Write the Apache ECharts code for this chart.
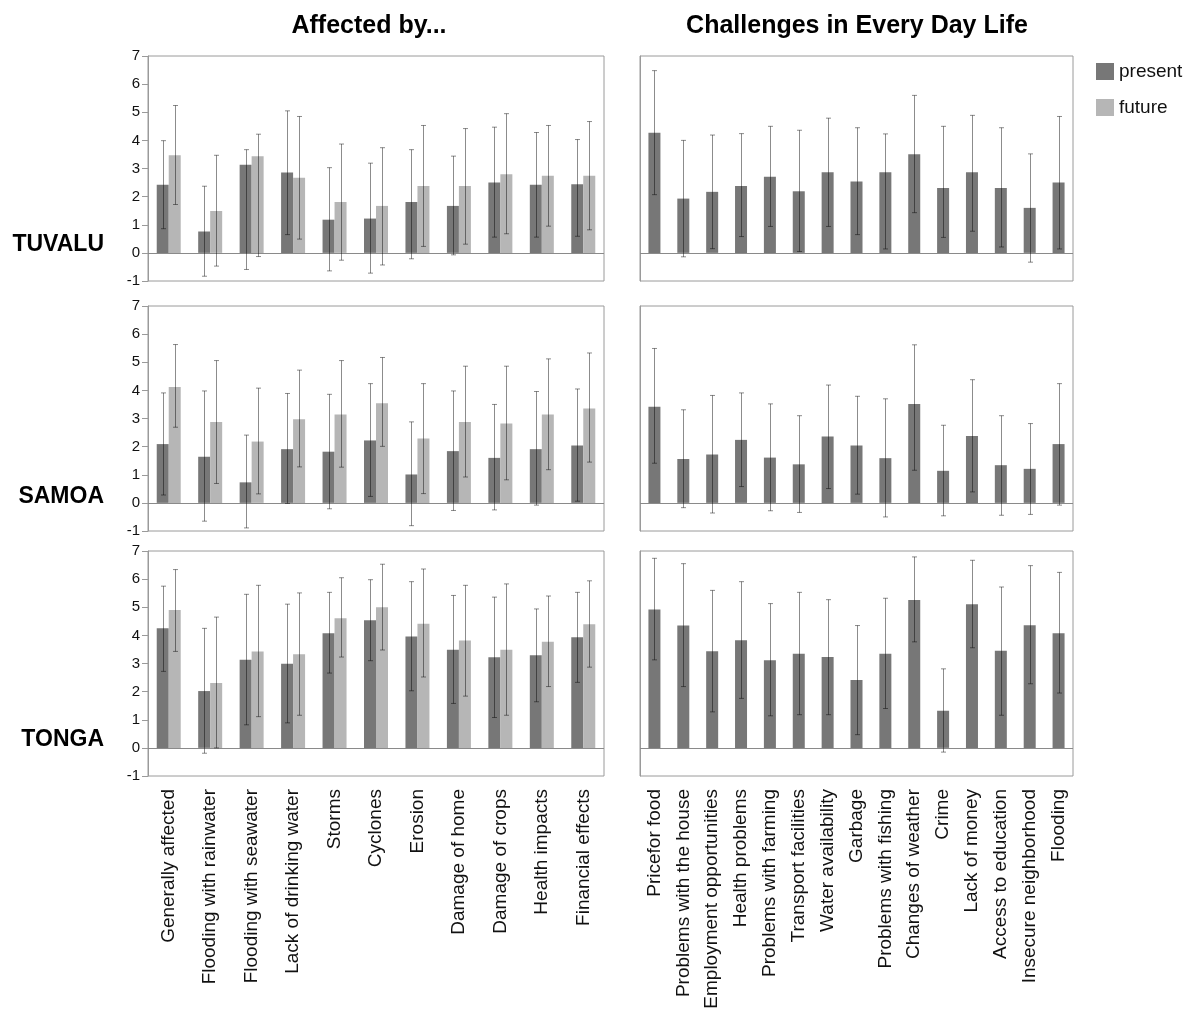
<!DOCTYPE html>
<html>
<head>
<meta charset="utf-8">
<script src="https://cdn.jsdelivr.net/npm/echarts@6/dist/echarts.min.js"></script>
<style>html,body{margin:0;padding:0;background:#fff}#c{width:1192px;height:1012px}</style>
</head>
<body>
<div id="c"></div>
<script>
const affectedCategories = ['Generally affected','Flooding with rainwater','Flooding with seawater','Lack of drinking water','Storms','Cyclones','Erosion','Damage of home','Damage of crops','Health impacts','Financial effects'];
const challengeCategories = ['Pricefor food','Problems with the house','Employment opportunities','Health problems','Problems with farming','Transport facilities','Water availability','Garbage','Problems with fishing','Changes of weather','Crime','Lack of money','Access to education','Insecure neighborhood','Flooding'];
const countries = ['TUVALU','SAMOA','TONGA'];
const seriesNames = ['present','future'];
const yMin = -1, yMax = 7, yStep = 1;

// TUVALU
const tuvaluAffectedPresent     = [2.42, 0.76, 3.13, 2.86, 1.18, 1.22, 1.81, 1.67, 2.50, 2.42, 2.44];
const tuvaluAffectedPresentLow  = [0.86,-0.83,-0.59, 0.65,-0.64,-0.72,-0.21,-0.07, 0.56, 0.56, 0.59];
const tuvaluAffectedPresentHigh = [3.99, 2.37, 3.67, 5.05, 3.03, 3.19, 3.67, 3.44, 4.47, 4.28, 4.03];
const tuvaluAffectedFuture      = [3.47, 1.49, 3.44, 2.67, 1.81, 1.67, 2.38, 2.38, 2.80, 2.74, 2.74];
const tuvaluAffectedFutureLow   = [1.72,-0.47,-0.13, 0.49,-0.26,-0.43, 0.23, 0.31, 0.68, 0.95, 0.82];
const tuvaluAffectedFutureHigh  = [5.24, 3.47, 4.22, 4.85, 3.87, 3.74, 4.53, 4.42, 4.95, 4.53, 4.67];
const tuvaluChallenges     = [4.27, 1.93, 2.17, 2.38, 2.71, 2.19, 2.87, 2.54, 2.87, 3.51, 2.31, 2.87, 2.31, 1.60, 2.50];
const tuvaluChallengesLow  = [2.07,-0.14, 0.15, 0.58, 0.94, 0.05, 0.94, 0.65, 0.14, 1.43, 0.55, 0.77, 0.21,-0.33, 0.14];
const tuvaluChallengesHigh = [6.48, 4.00, 4.19, 4.24, 4.50, 4.36, 4.79, 4.45, 4.23, 5.60, 4.50, 4.89, 4.45, 3.52, 4.85];

// SAMOA
const samoaAffectedPresent     = [2.09, 1.64, 0.73, 1.91, 1.82, 2.22, 1.01, 1.84, 1.60, 1.91, 2.04];
const samoaAffectedPresentLow  = [0.28,-0.65,-0.89,-0.02,-0.21, 0.23,-0.81,-0.27,-0.25,-0.08, 0.06];
const samoaAffectedPresentHigh = [3.91, 3.98, 2.41, 3.89, 3.86, 4.24, 2.88, 3.98, 3.50, 3.96, 4.05];
const samoaAffectedFuture      = [4.12, 2.88, 2.18, 2.97, 3.14, 3.54, 2.29, 2.88, 2.82, 3.14, 3.36];
const samoaAffectedFutureLow   = [2.69, 0.69, 0.32, 1.28, 1.27, 2.01, 0.33, 0.92, 0.82, 1.18, 1.45];
const samoaAffectedFutureHigh  = [5.63, 5.06, 4.08, 4.72, 5.06, 5.17, 4.24, 4.86, 4.86, 5.12, 5.33];
const samoaChallenges     = [3.42, 1.56, 1.72, 2.24, 1.61, 1.37, 2.36, 2.04, 1.59, 3.52, 1.14, 2.38, 1.34, 1.21, 2.09];
const samoaChallengesLow  = [1.41,-0.17,-0.36, 0.58,-0.28,-0.34, 0.51, 0.31,-0.50, 1.16,-0.46, 0.39,-0.44,-0.41,-0.08];
const samoaChallengesHigh = [5.49, 3.31, 3.82, 3.91, 3.52, 3.10, 4.19, 3.79, 3.70, 5.62, 2.76, 4.38, 3.10, 2.82, 4.24];

// TONGA
const tongaAffectedPresent     = [4.25, 2.02, 3.13, 2.99, 4.08, 4.54, 3.96, 3.49, 3.22, 3.29, 3.93];
const tongaAffectedPresentLow  = [2.72,-0.19, 0.82, 0.89, 2.66, 3.10, 2.03, 1.58, 1.08, 1.64, 2.33];
const tongaAffectedPresentHigh = [5.75, 4.25, 5.46, 5.11, 5.53, 5.98, 5.91, 5.42, 5.36, 4.94, 5.53];
const tongaAffectedFuture      = [4.90, 2.31, 3.43, 3.33, 4.61, 5.00, 4.41, 3.82, 3.49, 3.77, 4.40];
const tongaAffectedFutureLow   = [3.43, 0.00, 1.11, 1.16, 3.23, 3.48, 2.52, 1.84, 1.16, 2.18, 2.87];
const tongaAffectedFutureHigh  = [6.34, 4.65, 5.78, 5.51, 6.05, 6.53, 6.36, 5.78, 5.83, 5.40, 5.94];
const tongaChallenges     = [4.92, 4.35, 3.44, 3.83, 3.12, 3.35, 3.23, 2.41, 3.35, 5.26, 1.32, 5.11, 3.45, 4.36, 4.08];
const tongaChallengesLow  = [3.13, 2.18, 1.28, 1.76, 1.14, 1.18, 1.18, 0.47, 1.40, 3.77,-0.15, 3.56, 1.16, 2.28, 1.95];
const tongaChallengesHigh = [6.74, 6.55, 5.60, 5.91, 5.13, 5.53, 5.27, 4.35, 5.32, 6.79, 2.81, 6.67, 5.72, 6.48, 6.24];

const rows = [
  {aff:[[tuvaluAffectedPresent,tuvaluAffectedPresentLow,tuvaluAffectedPresentHigh],[tuvaluAffectedFuture,tuvaluAffectedFutureLow,tuvaluAffectedFutureHigh]], ch:[tuvaluChallenges,tuvaluChallengesLow,tuvaluChallengesHigh]},
  {aff:[[samoaAffectedPresent,samoaAffectedPresentLow,samoaAffectedPresentHigh],[samoaAffectedFuture,samoaAffectedFutureLow,samoaAffectedFutureHigh]], ch:[samoaChallenges,samoaChallengesLow,samoaChallengesHigh]},
  {aff:[[tongaAffectedPresent,tongaAffectedPresentLow,tongaAffectedPresentHigh],[tongaAffectedFuture,tongaAffectedFutureLow,tongaAffectedFutureHigh]], ch:[tongaChallenges,tongaChallengesLow,tongaChallengesHigh]}
];

const colors = ['#777777','#b6b6b6'];
const BW = 12;
const rowTops = [56, 306, 551];
const rowH = 225;
const labelFont = 'Liberation Sans';

const grids = [], xAxes = [], yAxes = [], series = [];

function errSeries(axisIdx, low, high, offset) {
  return {
    type: 'custom', xAxisIndex: axisIdx, yAxisIndex: axisIdx, z: 5, silent: true,
    data: low.map((l, i) => [i, l, high[i]]),
    encode: {x: 0, y: [1, 2]},
    renderItem: function (params, api) {
      const p1 = api.coord([api.value(0), api.value(1)]);
      const p2 = api.coord([api.value(0), api.value(2)]);
      const x = Math.round(p1[0] + offset) + 0.5;
      const cw = 2.5;
      const st = {stroke: 'rgba(0,0,0,0.45)', lineWidth: 1};
      return {type: 'group', children: [
        {type: 'line', shape: {x1: x, y1: p1[1], x2: x, y2: p2[1]}, style: st},
        {type: 'line', shape: {x1: x - cw, y1: p1[1], x2: x + cw, y2: p1[1]}, style: st},
        {type: 'line', shape: {x1: x - cw, y1: p2[1], x2: x + cw, y2: p2[1]}, style: st}
      ]};
    }
  };
}

rows.forEach((row, r) => {
  const isBottom = r === 2;
  [0, 1].forEach(side => {
    const idx = grids.length;
    grids.push({left: side === 0 ? 148 : 640, top: rowTops[r], width: side === 0 ? 456 : 433, height: rowH,
      show: true, borderColor: '#9a9a9a', borderWidth: 1, containLabel: false});
    xAxes.push({type: 'category', gridIndex: idx, data: side === 0 ? affectedCategories : challengeCategories,
      axisLine: {show: false}, axisTick: {show: false},
      axisLabel: {show: isBottom, rotate: 90, interval: 0, fontSize: 19, color: '#111', margin: 13, fontFamily: labelFont}});
    yAxes.push({type: 'value', gridIndex: idx, min: yMin, max: yMax, interval: yStep,
      splitLine: {show: false},
      axisLine: {show: true, lineStyle: {color: '#9a9a9a'}},
      axisTick: {show: side === 0, length: 6, lineStyle: {color: '#9a9a9a'}},
      axisLabel: {show: side === 0, fontSize: 15, color: '#111', margin: 8, fontFamily: labelFont}});
    const zeroLine = {silent: true, symbol: ['none','none'], label: {show: false},
      lineStyle: {color: '#8a8a8a', type: 'solid', width: 1}, data: [{yAxis: 0}], animation: false};
    if (side === 0) {
      row.aff.forEach((s, k) => {
        const bs = {type: 'bar', name: seriesNames[k], xAxisIndex: idx, yAxisIndex: idx, data: s[0],
          barWidth: BW, barGap: '0%', itemStyle: {color: colors[k]}, animation: false};
        if (k === 0) bs.markLine = zeroLine;
        series.push(bs);
        series.push(errSeries(idx, s[1], s[2], k === 0 ? -BW / 2 : BW / 2));
      });
    } else {
      const s = row.ch;
      series.push({type: 'bar', name: seriesNames[0], xAxisIndex: idx, yAxisIndex: idx, data: s[0],
        barWidth: BW, itemStyle: {color: colors[0]}, markLine: zeroLine, animation: false});
      series.push(errSeries(idx, s[1], s[2], 0));
    }
  });
});

const countryY = [245, 497, 740];
const graphic = countries.map((c, i) => ({type: 'text', x: 104, y: countryY[i],
  style: {text: c, font: 'bold 23px "Liberation Sans"', fill: '#000', textAlign: 'right', textVerticalAlign: 'middle'}}));
graphic.push({type: 'text', x: 369, y: 26, style: {text: 'Affected by...', font: 'bold 25px "Liberation Sans"', fill: '#000', textAlign: 'center', textVerticalAlign: 'middle'}});
graphic.push({type: 'text', x: 857, y: 26, style: {text: 'Challenges in Every Day Life', font: 'bold 25px "Liberation Sans"', fill: '#000', textAlign: 'center', textVerticalAlign: 'middle'}});

const chart = echarts.init(document.getElementById('c'));
chart.setOption({
  animation: false,
  grid: grids, xAxis: xAxes, yAxis: yAxes, series: series,
  legend: {data: seriesNames, orient: 'vertical', left: 1091, top: 57, itemWidth: 18, itemHeight: 17, itemGap: 17,
    icon: 'rect', textStyle: {fontSize: 19, color: '#111', fontFamily: labelFont}, selectedMode: false},
  graphic: graphic
});
</script>
</body>
</html>
